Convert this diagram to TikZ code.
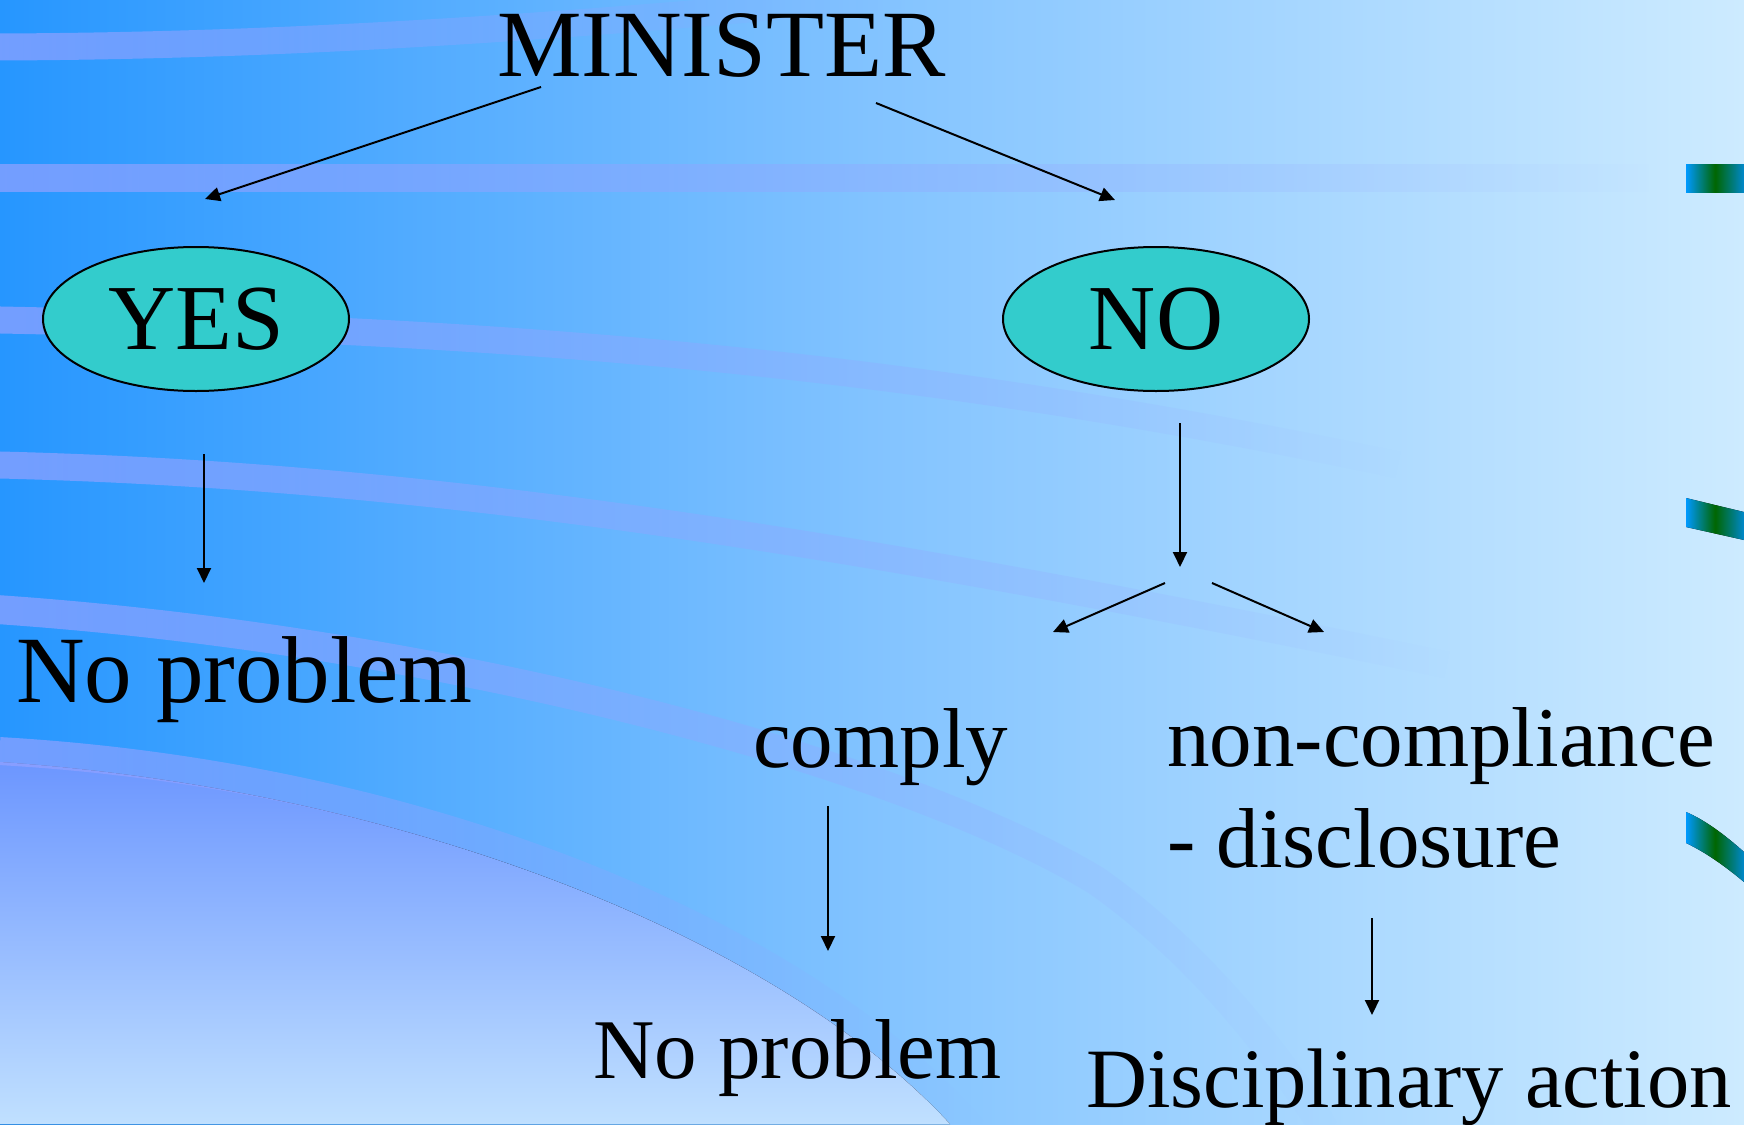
\documentclass[tikz,border=0pt]{standalone}
\usepackage{fontspec}
\setmainfont{Liberation Serif}
\usetikzlibrary{arrows.meta,shapes.geometric,fadings}
\definecolor{bgL}{RGB}{38,150,255}
\definecolor{bgM}{RGB}{130,195,255}
\definecolor{bgR}{RGB}{205,235,255}
\definecolor{bandcol}{RGB}{150,162,255}
\definecolor{regtop}{RGB}{108,150,255}
\definecolor{regbot}{RGB}{192,224,255}
\definecolor{ovalfill}{RGB}{51,204,204}
\definecolor{barblue}{RGB}{0,153,255}
\definecolor{bargreen}{RGB}{0,102,0}
\definecolor{barblue2}{RGB}{0,136,204}
\tikzfading[name=bandfade, left color=transparent!0, right color=transparent!100]
\tikzset{
  conn/.style={line width=2pt, -{Triangle[length=15pt,width=14pt]}},
  lvlone/.style={font=\fontsize{95}{100}\selectfont, inner sep=0pt},
  lvltwo/.style={font=\fontsize{85}{90}\selectfont, inner sep=0pt},
  oval/.style={ellipse, draw=black, line width=2pt, fill=ovalfill, minimum width=306pt, minimum height=144pt, inner sep=0pt, font=\fontsize{93}{96}\selectfont},
  band/.style={draw=bandcol, draw opacity=0.7, line width=27pt, path fading=bandfade},
  bar/.style={left color=barblue, right color=barblue2, middle color=bargreen}
}
\begin{document}
\begin{tikzpicture}[x=1pt,y=-1pt]
\useasboundingbox (0,0) rectangle (1744,1124);
\begin{scope}
\clip (0,0) rectangle (1744,1124);
% background gradient
\fill[left color=bgL, right color=bgR, middle color=bgM] (0,0) rectangle (1744,1124);
% bottom-left region
\fill[top color=regtop, bottom color=regbot] (0,762) .. controls (410,790) and (780,940) .. (950,1124) -- (0,1124) -- cycle;
% bands
\path[band] (0,47) .. controls (250,46) and (520,32) .. (900,-5);
\path[band] (0,178) -- (1650,178);
\path[band] (0,320) .. controls (500,330) and (900,360) .. (1400,465);
\path[band] (0,465) .. controls (400,475) and (800,530) .. (1450,665);
\path[band, line width=29pt] (0,609) .. controls (450,640) and (900,760) .. (1100,880) .. controls (1200,950) and (1280,1050) .. (1330,1130);
\path[band, line width=28pt] (0,751) .. controls (420,775) and (800,930) .. (975,1130);
% right-side bars
\fill[bar] (1686,164) rectangle (1744,192);
\fill[bar] (1686,498) -- (1744,512) -- (1744,540) -- (1686,527) -- cycle;
\fill[bar] (1686,812) .. controls (1705,820) and (1725,835) .. (1744,852) -- (1744,882) .. controls (1725,866) and (1705,852) .. (1686,843) -- cycle;
\end{scope}
% nodes
\node[lvlone, anchor=base west] (min) at (497,77) {MINISTER};
\node[oval] (yes) at (196,319) {YES};
\node[oval] (no) at (1156,319) {NO};
\node[lvlone, anchor=base west] (np1) at (16,702) {No problem};
\node[lvltwo, anchor=base west] (comply) at (753,767) {comply};
\node[lvltwo, anchor=base west] (nonc) at (1167,766) {non-compliance};
\node[lvltwo, anchor=base west] (discl) at (1167,867) {- disclosure};
\node[lvltwo, anchor=base west] (np2) at (593,1078) {No problem};
\node[lvltwo, anchor=base west, font=\fontsize{84.5}{88}\selectfont] (disc) at (1086,1107) {Disciplinary action};
% connector end points
\coordinate (m1s) at (541,87);
\coordinate (m1e) at (205,199);
\coordinate (m2s) at (876,103);
\coordinate (m2e) at (1115,200);
\coordinate (y1s) at (204,454);
\coordinate (y1e) at (204,583);
\coordinate (n1s) at (1180,423);
\coordinate (n1e) at (1180,567);
\coordinate (b1s) at (1165,583);
\coordinate (b1e) at (1053,632);
\coordinate (b2s) at (1212,583);
\coordinate (b2e) at (1324,632);
\coordinate (c1s) at (828,806);
\coordinate (c1e) at (828,951);
\coordinate (d1s) at (1372,918);
\coordinate (d1e) at (1372,1015);
% connectors
\draw[conn] (m1s) -- (m1e);
\draw[conn] (m2s) -- (m2e);
\draw[conn] (y1s) -- (y1e);
\draw[conn] (n1s) -- (n1e);
\draw[conn] (b1s) -- (b1e);
\draw[conn] (b2s) -- (b2e);
\draw[conn] (c1s) -- (c1e);
\draw[conn] (d1s) -- (d1e);
\end{tikzpicture}
\end{document}
